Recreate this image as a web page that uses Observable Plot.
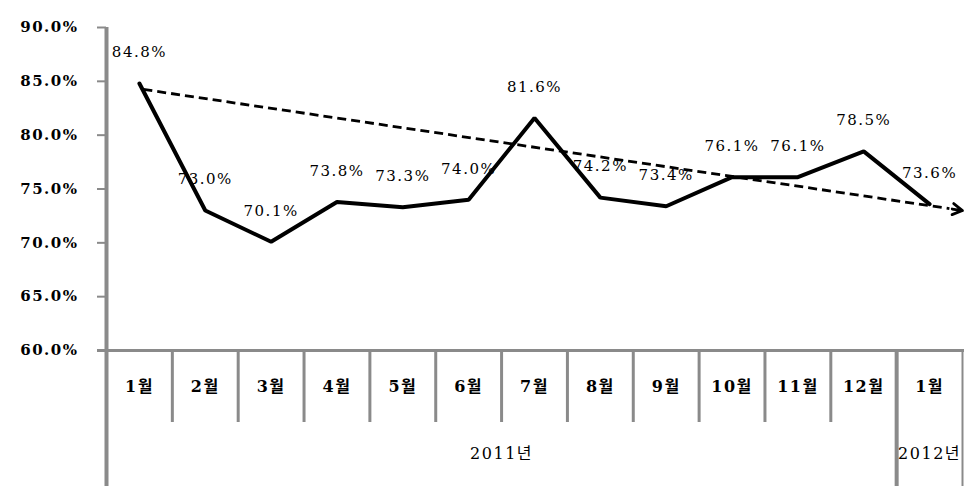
<!DOCTYPE html>
<html><head><meta charset="utf-8">
<script src="https://cdn.jsdelivr.net/npm/d3@7"></script>
<script src="https://cdn.jsdelivr.net/npm/@observablehq/plot@0.6"></script>
<style>
body{margin:0;background:#fff}
#chart svg text{letter-spacing:1.5px}
</style>
</head><body><div id="chart"></div>
<script>
// ---- data ----
const months = ["1월","2월","3월","4월","5월","6월","7월","8월","9월","10월","11월","12월","1월"];
const years  = ["2011년","2011년","2011년","2011년","2011년","2011년","2011년","2011년","2011년","2011년","2011년","2011년","2012년"];
const values = [84.8,73.0,70.1,73.8,73.3,74.0,81.6,74.2,73.4,76.1,76.1,78.5,73.6];
const yTicks = [60,65,70,75,80,85,90];
const trendX = [1.06, 13.5];
const trendY = [84.25, 73.0];

// ---- layout ----
const W=967, H=486, mL=106, mR=5, mT=27, mB=136;
const frameH = H - mT - mB;
const font = '"DejaVu Serif", "Noto Sans CJK KR", serif';

const data = months.map((m,i)=>({i:i+1, month:m, year:years[i], value:values[i]}));
const n = data.length;
const yearBounds = [], monthBounds = [];
for (let k=1;k<n;k++){
  if (years[k]!==years[k-1]) yearBounds.push(k+0.5); else monthBounds.push(k+0.5);
}
const yearGroups = d3.groups(data, d=>d.year).map(([y,arr])=>({year:y, x:d3.mean(arr,d=>d.i)}));

const lerp = (t) => [trendX[0] + t*(trendX[1]-trendX[0]), trendY[0] + t*(trendY[1]-trendY[0])];
const [dx2, dy2] = lerp(0.984);   // end of dashed part
const [ax1, ay1] = lerp(0.95);    // arrow (head) segment start, trimmed by insetStart

const gray = "#8a8a8a";
const marks = [
  Plot.ruleY([60], {stroke:gray, strokeWidth:3, insetLeft:-9, insetRight:-2}),
  Plot.ruleX([0.5], {stroke:gray, strokeWidth:4, insetBottom:-mB}),
  Plot.ruleX(monthBounds, {stroke:gray, strokeWidth:3, insetTop:frameH, insetBottom:-72}),
  Plot.ruleX(yearBounds, {stroke:gray, strokeWidth:4, insetTop:frameH, insetBottom:-mB}),
  Plot.ruleX([n+0.5], {stroke:gray, strokeWidth:2, insetTop:frameH, insetBottom:-mB}),
  Plot.text(data, {x:"i", text:"month", frameAnchor:"bottom", dy:41, fontSize:16, fontWeight:"bold", fill:"#000"}),
  Plot.text(yearGroups, {x:"x", text:"year", frameAnchor:"bottom", dy:108, fontSize:16, fill:"#000"}),
  Plot.link([0], {x1:[trendX[0]], y1:[trendY[0]], x2:[dx2], y2:[dy2], stroke:"#000", strokeWidth:2.8, strokeDasharray:"9,5"}),
  Plot.arrow([0], {x1:[ax1], y1:[ay1], x2:[trendX[1]], y2:[trendY[1]], stroke:"#000", strokeWidth:2.8, headLength:6, insetStart:31}),
  Plot.line(data, {x:"i", y:"value", stroke:"#000", strokeWidth:4, strokeLinejoin:"miter"}),
  Plot.text(data, {x:"i", y:"value", text:d=>d.value.toFixed(1)+"%", dy:-31, fontSize:15, fill:"#000"})
];
if (Plot.axisY) {
  marks.unshift(Plot.axisY({ticks:yTicks, tickFormat:d=>d.toFixed(1)+"%", tickSize:9, tickPadding:19, stroke:gray, strokeWidth:2, fill:"#000", fontSize:15, fontWeight:"bold", label:null}));
}

const chart = Plot.plot({
  width:W, height:H, marginLeft:mL, marginRight:mR, marginTop:mT, marginBottom:mB,
  style:{fontFamily:font, fontSize:"15px", background:"#fff", color:"#000", overflow:"visible"},
  x:{domain:[0.5, n+0.5], axis:null},
  y:{domain:[60,90], ticks:yTicks, tickFormat:d=>d.toFixed(1)+"%", tickSize:9, tickPadding:19, label:null},
  marks
});
document.getElementById("chart").appendChild(chart);
</script>
</body></html>
